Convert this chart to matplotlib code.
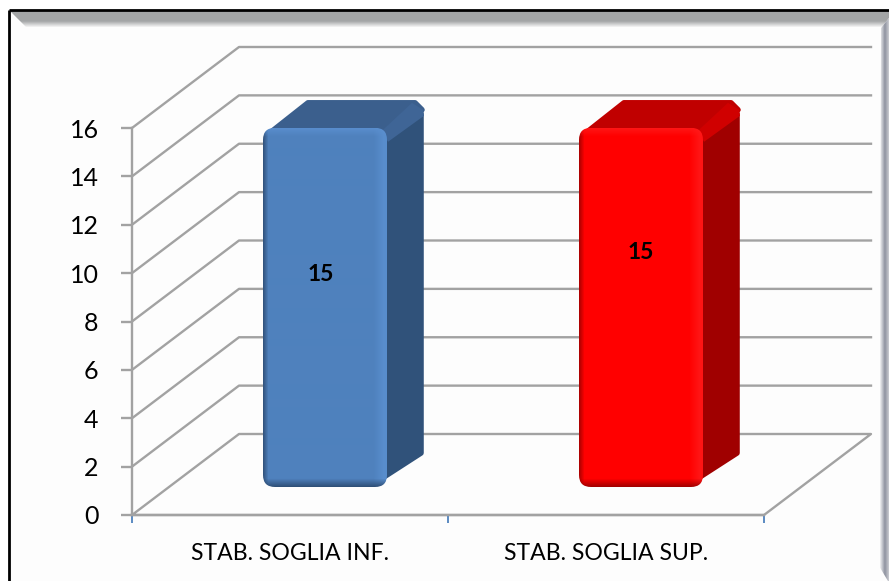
"""Stabilita soglia: finto istogramma 3D con bordo smussato."""
import matplotlib
matplotlib.use("Agg")
import matplotlib.pyplot as plt
from matplotlib.colors import to_rgb
from matplotlib.patches import FancyBboxPatch, Polygon, Rectangle
import numpy as np

W, H = 889, 581

categories = ["STAB. SOGLIA INF.", "STAB. SOGLIA SUP."]
values = [14.85, 14.85]
label_y = [9.93, 10.87]
y_ticks = [0, 2, 4, 6, 8, 10, 12, 14, 16]

# front, side, top, light, dark, strip between top and side
bar_colors = [("#4f81bd", "#30527a", "#3b5f8d", "#5b90d0", "#2c4a70", "#3f6596"),
              ("#ff0000", "#a00000", "#c00000", "#ff1a1a", "#9a0000", "#d00000")]

plt.rcParams["font.family"] = ["Lato", "DejaVu Sans"]

fig = plt.figure(figsize=(W / 100, H / 100), dpi=100, facecolor="white")

# plot area in pixels
L, R, T, B = 132, 764, 128, 515
ax = fig.add_axes([L / W, 1 - B / H, (R - L) / W, (B - T) / H])
ax.set_xlim(-0.5, 1.5)
ax.set_ylim(0, 16)
ax.patch.set_alpha(0)

px = (R - L) / 2.0      # pixels per category
py = (B - T) / 16.0     # pixels per unit
DX = 107 / px           # depth of the box
DY = 81 / py
GRID = "#a2a2a2"


def blend(a, b, t):
    """Array of colours going from a to b along t (0..1)."""
    a, b = np.array(to_rgb(a)), np.array(to_rgb(b))
    t = np.clip(t, 0, 1)[..., None]
    return a * (1 - t) + b * t


# outer frame, drawn in figure pixels
bg = fig.add_axes([0, 0, 1, 1], zorder=-1)
bg.set_xlim(0, W)
bg.set_ylim(H, 0)
bg.axis("off")
bg.add_patch(Rectangle((9, 10), W, H, fc="#fdfdfd", ec="none"))

# grey bevel along the top, fading out downwards
t = np.linspace(0, 1, 18).reshape(-1, 1)
top_img = blend("#a3a5a6", "#fdfdfd", (t - 0.62) / 0.38)
im = bg.imshow(top_img, extent=(9, W, 28, 10), aspect="auto", zorder=1)
im.set_clip_path(Polygon([(9, 10), (W, 10), (W, 18), (W - 8, 28), (27, 28)], transform=bg.transData))

# same on the right edge, with the corner cut at the bottom
t = np.linspace(0, 1, 10).reshape(1, -1)
right_img = blend("#fdfdfd", "#8f93a0", t / 0.6)
right_img[:, 6:] = blend("#8f93a0", "#c4c6cc", (t[:, 6:] - 0.6) / 0.4)
im = bg.imshow(right_img, extent=(879, W, H, 10), aspect="auto", zorder=1.1)
im.set_clip_path(Polygon([(881, 28), (W, 18), (W, H), (W - 1, H), (879, 566)], transform=bg.transData))
bg.set_xlim(0, W)
bg.set_ylim(H, 0)
bg.plot([9, 9], [H, 10], color="black", lw=2, solid_capstyle="butt", zorder=2)
bg.plot([9, W], [10, 10], color="black", lw=2, solid_capstyle="butt", zorder=2)

# walls and gridlines
for v in y_ticks:
    xs = [-0.5, -0.5 + DX, 1.5 + DX]
    ys = [v, v + DY, v + DY]
    if v == 0:
        xs = [-0.5, -0.5 + DX, 1.5 + DX, 1.5, -0.5]
        ys = [0, DY, DY, 0, 0]
    ax.plot(xs, ys, color=GRID, lw=1.7, clip_on=False, zorder=1)

ax.set_xticks([-0.5, 0.5, 1.5])
ax.set_xticklabels([])
ax.set_xticks([0, 1], labels=categories, minor=True)
ax.tick_params(axis="x", which="major", length=6, width=1.3, color="#4f81bd")
ax.tick_params(axis="x", which="minor", length=0, labelsize=16.6, pad=20)
ax.set_yticks(y_ticks)
ax.tick_params(axis="y", length=8, width=1.7, color=GRID, labelsize=18, pad=16, labelcolor="black")
for side in ["top", "right"]:
    ax.spines[side].set_visible(False)
for side in ["left", "bottom"]:
    ax.spines[side].set_color(GRID)
    ax.spines[side].set_linewidth(1.7)

# bars, sizes in pixels
BAR_W = 124 / px
OX = 35 / px            # how far the bar sits in from the front of the floor
OY = 28 / py
SX = 38 / px            # bar depth
SY = 28 / py
RAD = 12

for i, (v, c) in enumerate(zip(values, bar_colors)):
    front, side, top, light, dark, strip = c
    x0 = i + OX - BAR_W / 2
    x1 = x0 + BAR_W
    y0 = OY
    y1 = y0 + v
    cx = 1 / px
    cy = 1 / py

    # side face, cut at the bottom like the top; thick round edge gives the soft corners
    ax.add_patch(Polygon([(x1 - 14 * cx, y0 + 3 * cy), (x1 + SX - 4 * cx, y0 + SY + 6 * cy),
                          (x1 + SX - 4 * cx, y1 + SY - 14 * cy), (x1, y1)],
                         fc=side, ec=side, lw=4, joinstyle="round", clip_on=False, zorder=2))
    # top face
    ax.add_patch(Polygon([(x0 + 7 * cx, y1 - 5 * cy), (x0 + SX + 7 * cx, y1 + SY - 3 * cy),
                          (x1 + SX - 10 * cx, y1 + SY - 3 * cy), (x1 + SX - 3 * cx, y1 + SY - 10 * cy),
                          (x1, y1 - 10 * cy)],
                         fc=top, ec=top, lw=4, joinstyle="round", clip_on=False, zorder=2.1))
    # brighter strip on the edge between top and side
    ax.add_patch(Polygon([(x1 - 4 * cx, y1 - 2 * cy), (x1 + SX - 13 * cx, y1 + SY - 3 * cy),
                          (x1 + SX - 2 * cx, y1 + SY - 10 * cy), (x1 + SX - 1 * cx, y1 + SY - 16 * cy),
                          (x1 + 1 * cx, y1 - 14 * cy)],
                         fc=strip, ec="none", clip_on=False, zorder=2.2))

    # front face: gradient picture clipped to a rounded box
    nx, ny = 124, int(round(v * py))
    xx = np.arange(nx)[None, :].repeat(ny, 0)
    yy = np.arange(ny)[:, None].repeat(nx, 1)
    img = blend(front, front, np.zeros((ny, nx)))
    left_edge = 1 - xx / 5.0
    right_edge = (xx - (nx - 14)) / 10.0
    top_edge = 1 - yy / 8.0
    bottom_edge = (yy - (ny - 9)) / 9.0
    for mask, col in [(left_edge, dark), (right_edge, light), (top_edge, light)]:
        m = np.clip(mask, 0, 1)[..., None] * 0.8
        img = img * (1 - m) + np.array(to_rgb(col)) * m
    m = np.clip(bottom_edge, 0, 1)[..., None]
    img = img * (1 - m) + np.array(to_rgb(dark)) * m

    r = RAD / px
    box = FancyBboxPatch((x0 + r, y0 + RAD / py), BAR_W - 2 * r, v - 2 * RAD / py,
                         boxstyle=f"round,pad={r},rounding_size={r}", mutation_aspect=px / py,
                         fc="none", ec="none", clip_on=False, transform=ax.transData)
    ax.add_patch(box)
    # row 0 of img is the top of the bar
    im = ax.imshow(img, extent=(x0, x1, y0, y1), aspect="auto", zorder=3)
    im.set_clip_path(box)

    ax.text(i + OX - (4 / px if i == 0 else 0), label_y[i], f"{v:.0f}", ha="center", va="center",
            fontsize=16.5, fontweight="bold", color="black", zorder=5)

ax.set_xlim(-0.5, 1.5)
ax.set_ylim(0, 16)

fig.savefig("out.png", dpi=100)
